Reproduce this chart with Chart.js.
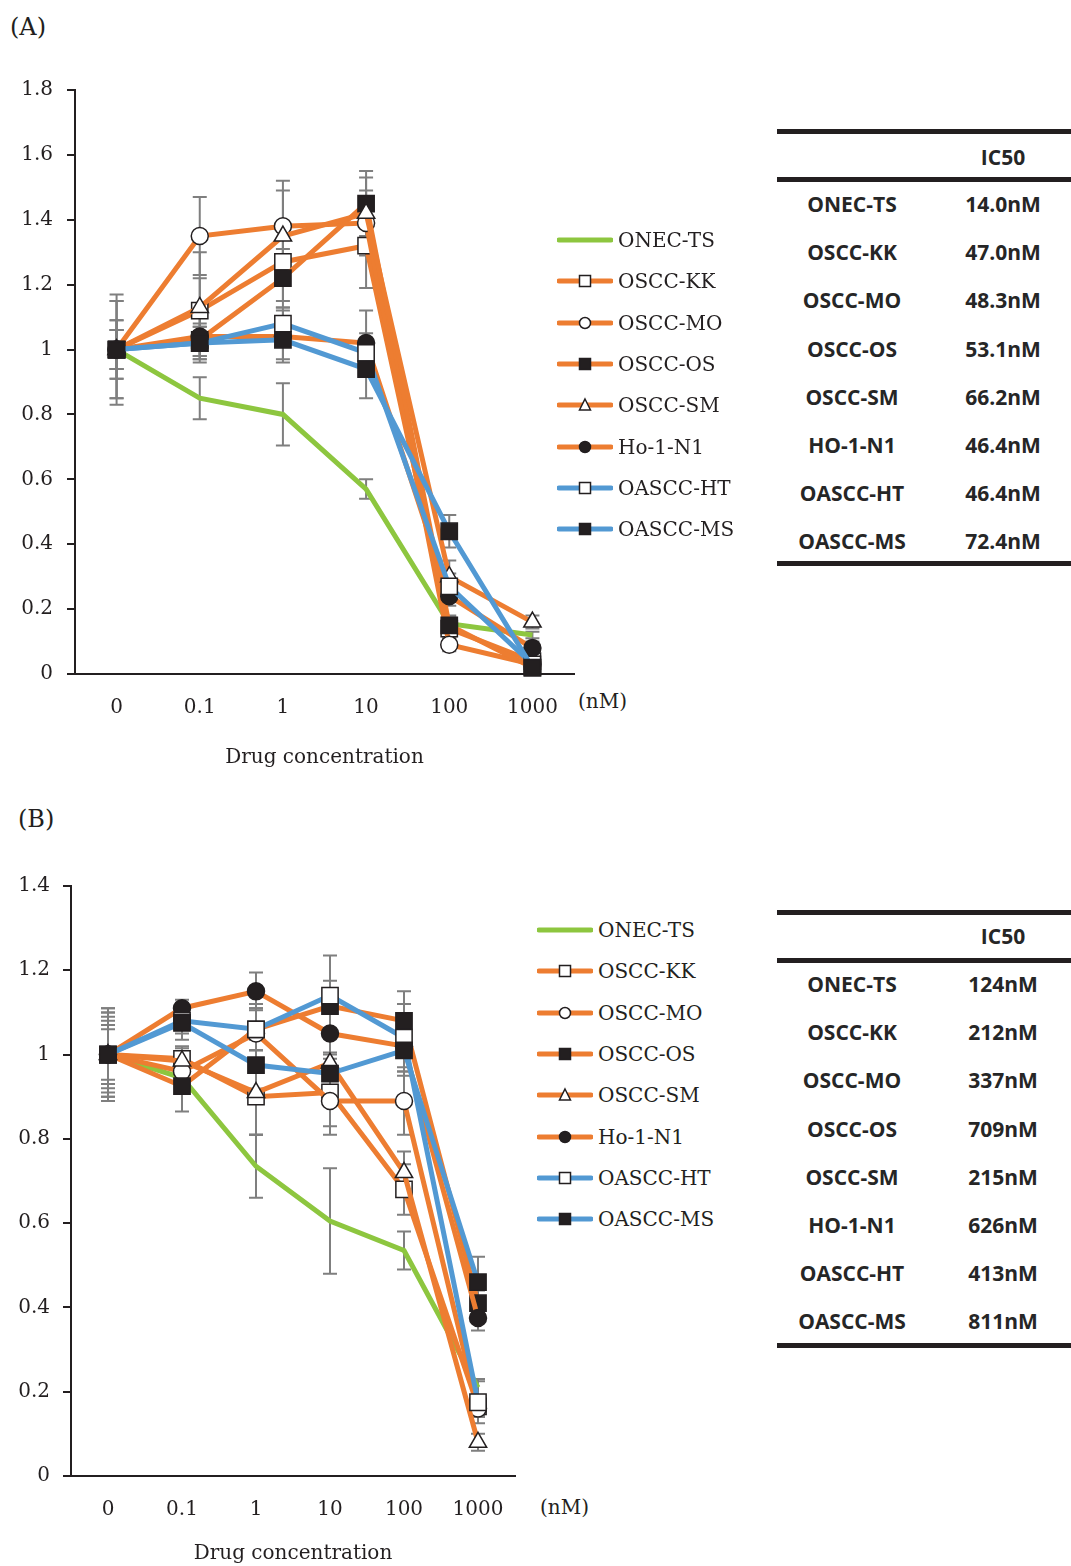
<!DOCTYPE html>
<html>
<head>
<meta charset="utf-8">
<script src="https://cdn.jsdelivr.net/npm/chart.js@4"></script>
<style>
  body { margin: 0; width: 1071px; height: 1566px; position: relative; background: #fff; overflow: hidden;
         font-family: 'DejaVu Serif', serif; color: #231f20; }
  .box { position: absolute; }
  .plabel { position: absolute; font-size: 24px; }
  .unit { position: absolute; font-size: 20px; }
  .leg { position: absolute; display: flex; align-items: center; height: 24px; font-size: 20px; white-space: nowrap; }
  .leg svg { margin-right: 5px; }
  .rule { position: absolute; left: 777px; width: 294px; height: 5px; background: #231f20; }
  .cell { position: absolute; height: 30px; line-height: 30px; text-align: center;
          font-family: 'Open Sans', sans-serif; font-weight: bold; font-size: 21px; color: #262626; }
</style>
</head>
<body>
<div class="plabel" style="left:10px;top:13px">(A)</div>
<div class="plabel" style="left:18px;top:805px">(B)</div>
<div class="unit" style="left:578px;top:689px">(nM)</div>
<div class="unit" style="left:540px;top:1495px">(nM)</div>

<div class="box" style="left:0;top:60px;width:587px;height:730px"><canvas id="chartA"></canvas></div>
<div class="box" style="left:0;top:860px;width:528px;height:706px"><canvas id="chartB"></canvas></div>
<div id="legA"></div>
<div id="legB"></div>
<div id="tblA"></div>
<div id="tblB"></div>

<script>
// data
const labels = ['0', '0.1', '1', '10', '100', '1000'];
const names = ['ONEC-TS', 'OSCC-KK', 'OSCC-MO', 'OSCC-OS', 'OSCC-SM', 'Ho-1-N1', 'OASCC-HT', 'OASCC-MS'];
const tableNames = ['ONEC-TS', 'OSCC-KK', 'OSCC-MO', 'OSCC-OS', 'OSCC-SM', 'HO-1-N1', 'OASCC-HT', 'OASCC-MS'];
const ic50A = ['14.0nM', '47.0nM', '48.3nM', '53.1nM', '66.2nM', '46.4nM', '46.4nM', '72.4nM'];
const ic50B = ['124nM', '212nM', '337nM', '709nM', '215nM', '626nM', '413nM', '811nM'];

// (A) values and SD
const onecA = [1, 0.85, 0.80, 0.57, 0.155, 0.12];
const kkA   = [1, 1.12, 1.27, 1.32, 0.14, 0.04];
const moA   = [1, 1.35, 1.38, 1.39, 0.09, 0.03];
const osA   = [1, 1.03, 1.22, 1.45, 0.15, 0.02];
const smA   = [1, 1.13, 1.35, 1.42, 0.30, 0.16];
const hoA   = [1, 1.04, 1.04, 1.02, 0.24, 0.08];
const htA   = [1, 1.02, 1.08, 0.99, 0.27, 0.03];
const msA   = [1, 1.02, 1.03, 0.94, 0.44, 0.02];

const onecErrA = [0.17, 0.065, 0.096, 0.03, 0.02, 0.01];
const kkErrA   = [0.15, 0.10, 0.12, 0.13, 0.03, 0.01];
const moErrA   = [0.09, 0.12, 0.14, 0.10, 0.02, 0.01];
const osErrA   = [0.06, 0.05, 0.09, 0.10, 0.03, 0.01];
const smErrA   = [0.06, 0.17, 0.14, 0.11, 0.05, 0.02];
const hoErrA   = [0.15, 0.06, 0.08, 0.10, 0.03, 0.02];
const htErrA   = [0.09, 0.05, 0.05, 0.06, 0.04, 0.01];
const msErrA   = [0.06, 0.05, 0.06, 0.09, 0.05, 0.01];

// (B) values and SD
const onecB = [1, 0.945, 0.735, 0.605, 0.535, 0.21];
const kkB   = [1, 0.99, 0.90, 0.91, 0.68, 0.165];
const moB   = [1, 0.96, 1.05, 0.89, 0.89, 0.16];
const osB   = [1, 0.925, 1.06, 1.115, 1.08, 0.41];
const smB   = [1, 0.985, 0.91, 0.98, 0.72, 0.08];
const hoB   = [1, 1.11, 1.15, 1.05, 1.02, 0.375];
const htB   = [1, 1.08, 1.06, 1.14, 1.04, 0.175];
const msB   = [1, 1.075, 0.975, 0.955, 1.01, 0.46];

const onecErrB = [0.11, 0.03, 0.075, 0.125, 0.045, 0.02];
const kkErrB   = [0.10, 0.03, 0.09, 0.08, 0.06, 0.02];
const moErrB   = [0.08, 0.04, 0.07, 0.08, 0.08, 0.02];
const osErrB   = [0.06, 0.06, 0.05, 0.06, 0.07, 0.03];
const smErrB   = [0.09, 0.03, 0.10, 0.06, 0.05, 0.02];
const hoErrB   = [0.11, 0.02, 0.045, 0.05, 0.06, 0.03];
const htErrB   = [0.10, 0.03, 0.05, 0.095, 0.08, 0.05];
const msErrB   = [0.07, 0.04, 0.06, 0.05, 0.06, 0.06];

const GREEN = '#8dc63f', ORANGE = '#ed7d31', BLUE = '#5299d3', INK = '#231f20';
// marker per series: [pointStyle, filled]
const markers = [null, ['rect', false], ['circle', false], ['rect', true], ['triangle', false],
                 ['circle', true], ['rect', false], ['rect', true]];
const colors = [GREEN, ORANGE, ORANGE, ORANGE, ORANGE, ORANGE, BLUE, BLUE];

function makeDatasets(vals, errs) {
  return vals.map((v, i) => {
    const m = markers[i];
    const r = !m ? 0 : (m[0] === 'rect' ? 11.5 : (m[0] === 'circle' ? 8.5 : 10));
    return {
      label: names[i],
      data: v,
      errors: errs[i],
      order: vals.length - 1 - i,   // later series on top, like the original
      borderColor: colors[i],
      borderWidth: 5,
      tension: 0,
      fill: false,
      clip: false,
      pointStyle: m ? m[0] : 'circle',
      pointRadius: r,
      pointHoverRadius: r,
      pointBackgroundColor: m && m[1] ? INK : '#ffffff',
      pointBorderColor: INK,
      pointBorderWidth: 1.5
    };
  });
}

const errorBars = {
  id: 'errorBars',
  beforeDatasetsDraw(chart) {
    const ctx = chart.ctx, xs = chart.scales.x, ys = chart.scales.y;
    ctx.save();
    ctx.strokeStyle = '#7f7f7f';
    ctx.lineWidth = 2;
    chart.data.datasets.forEach(ds => {
      ds.data.forEach((v, j) => {
        const e = ds.errors[j];
        const x = xs.getPixelForValue(j);
        const y1 = ys.getPixelForValue(v + e), y2 = ys.getPixelForValue(v - e);
        ctx.beginPath();
        ctx.moveTo(x, y1); ctx.lineTo(x, y2);
        ctx.moveTo(x - 7, y1); ctx.lineTo(x + 7, y1);
        ctx.moveTo(x - 7, y2); ctx.lineTo(x + 7, y2);
        ctx.stroke();
      });
    });
    ctx.restore();
  }
};

function makeChart(id, vals, errs, ymax, yWidth, yPad, xHeight, pad, titlePad) {
  const ctx = document.getElementById(id).getContext('2d');
  return new Chart(ctx, {
    type: 'line',
    data: { labels: labels, datasets: makeDatasets(vals, errs) },
    plugins: [errorBars],
    options: {
      responsive: true,
      maintainAspectRatio: false,
      animation: false,
      layout: { padding: pad },
      plugins: { legend: { display: false }, tooltip: { enabled: false } },
      scales: {
        x: {
          offset: true,
          grid: { display: false, drawTicks: false },
          border: { display: true, color: INK, width: 2 },
          ticks: { color: INK, padding: 22, font: { family: 'DejaVu Serif', size: 20 } },
          title: { display: true, text: 'Drug concentration', color: INK,
                   font: { family: 'DejaVu Serif', size: 20 }, padding: { top: 4, bottom: titlePad } },
          afterFit: s => { s.height = xHeight; }
        },
        y: {
          min: 0, max: ymax,
          grid: { drawOnChartArea: false, drawTicks: true, tickLength: 8, color: INK, lineWidth: 2 },
          border: { display: true, color: INK, width: 2 },
          ticks: { stepSize: 0.2, color: INK, padding: yPad, font: { family: 'DejaVu Serif', size: 20 },
                   callback: v => String(Number(v.toFixed(1))) },
          afterFit: s => { s.width = yWidth; }
        }
      }
    }
  });
}

makeChart('chartA', [onecA, kkA, moA, osA, smA, hoA, htA, msA],
  [onecErrA, kkErrA, moErrA, osErrA, smErrA, hoErrA, htErrA, msErrA],
  1.8, 75, 14, 116, { top: 30, right: 0, left: 0, bottom: 0 }, 20);
makeChart('chartB', [onecB, kkB, moB, osB, smB, hoB, htB, msB],
  [onecErrB, kkErrB, moErrB, osErrB, smErrB, hoErrB, htErrB, msErrB],
  1.4, 71, 13, 90, { top: 26, right: 0, left: 0, bottom: 0 }, 0);

function icon(i) {
  const m = markers[i];
  let mk = '';
  if (m) {
    const fill = m[1] ? INK : '#fff';
    if (m[0] === 'rect') mk = `<rect x="22.5" y="2.5" width="11" height="11" fill="${fill}" stroke="${INK}" stroke-width="1.5"/>`;
    else if (m[0] === 'circle') mk = `<circle cx="28" cy="8" r="5.5" fill="${fill}" stroke="${INK}" stroke-width="1.5"/>`;
    else mk = `<polygon points="28,2 33.5,13 22.5,13" fill="${fill}" stroke="${INK}" stroke-width="1.5"/>`;
  }
  return `<svg width="56" height="16"><line x1="2" y1="8" x2="54" y2="8" stroke="${colors[i]}" stroke-width="5" stroke-linecap="round"/>${mk}</svg>`;
}

function buildLegend(id, left, top0) {
  let html = '';
  names.forEach((n, i) => {
    html += `<div class="leg" style="left:${left}px;top:${top0 + i * 41.3 - 12}px">${icon(i)}<span>${n}</span></div>`;
  });
  document.getElementById(id).innerHTML = html;
}
buildLegend('legA', 557, 240);
buildLegend('legB', 537, 930);

function buildTable(id, vals, topRule, headY, midRule, row0, bottomRule) {
  let html = `<div class="rule" style="top:${topRule - 2}px"></div>`;
  html += `<div class="cell" style="left:933px;width:140px;top:${headY - 15}px">IC50</div>`;
  html += `<div class="rule" style="top:${midRule - 2}px"></div>`;
  tableNames.forEach((n, i) => {
    const y = row0 + i * 48.2 - 15;
    html += `<div class="cell" style="left:778px;width:148px;top:${y}px">${n}</div>`;
    html += `<div class="cell" style="left:933px;width:140px;top:${y}px">${vals[i]}</div>`;
  });
  html += `<div class="rule" style="top:${bottomRule - 2}px"></div>`;
  document.getElementById(id).innerHTML = html;
}
buildTable('tblA', ic50A, 131, 157, 179, 204, 563);
buildTable('tblB', ic50B, 912, 936, 960, 984, 1345);
</script>
</body>
</html>
